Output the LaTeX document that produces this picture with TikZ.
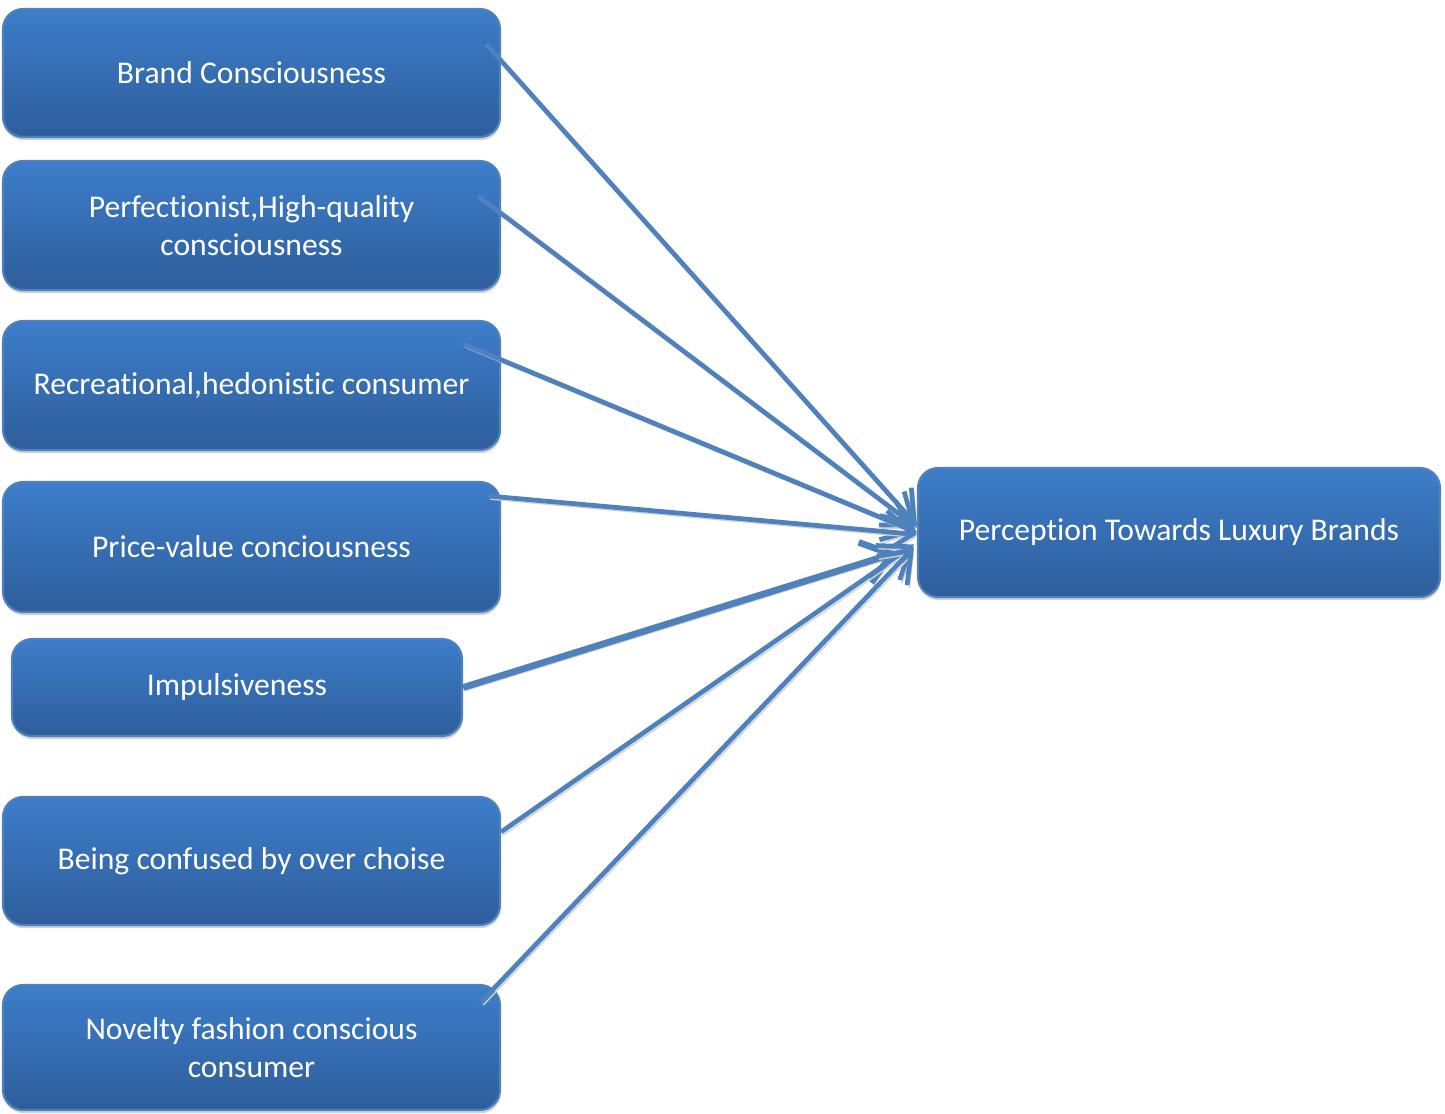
\documentclass[tikz,border=0pt]{standalone}
\usepackage{fontspec}
\setmainfont{Carlito}[Ligatures=NoCommon]
\usepackage{xcolor}
\definecolor{boxtop}{RGB}{61,125,202}
\definecolor{boxbot}{RGB}{46,94,155}
\definecolor{boxedge}{RGB}{79,129,189}
\definecolor{arrowblue}{RGB}{79,129,189}
\usetikzlibrary{arrows.meta,positioning,calc,shadows}

\begin{document}
\begin{tikzpicture}[
  box/.style={draw=boxedge, line width=0.6pt, top color=boxtop, bottom color=boxbot, rounded corners=2mm, minimum width=4.97cm, minimum height=1.28cm, align=center, text=white, font=\fontsize{9}{11}\selectfont, drop shadow={shadow xshift=0.2pt, shadow yshift=-0.9pt, fill=black, opacity=0.18}},
  arrow/.style={-{Straight Barb[length=2.8mm,width=4.2mm]}, line width=1.35pt, arrowblue, preaction={draw, black!18, transform canvas={xshift=0.6pt,yshift=-0.9pt}}}
]
  \useasboundingbox (0,0) rectangle (14.45,11.13);
  \node[box] (brand) at (2.515,10.40) {Brand Consciousness};
  \node[box, minimum height=1.29cm] (perfect) at (2.515,8.875) {Perfectionist,High-quality\\consciousness};
  \node[box, minimum height=1.29cm] (recreat) at (2.515,7.275) {Recreational,hedonistic consumer};
  \node[box, minimum height=1.30cm] (price) at (2.515,5.66) {Price-value conciousness};
  \node[box, minimum width=4.50cm, minimum height=0.97cm] (impulse) at (2.37,4.255) {Impulsiveness};
  \node[box] (confused) at (2.515,2.52) {Being confused by over choise};
  \node[box, minimum height=1.25cm] (novelty) at (2.515,0.655) {Novelty fashion conscious\\consumer};
  \node[box, minimum width=5.22cm, minimum height=1.29cm] (percept) at (11.79,5.805) {Perception Towards Luxury Brands};

  % arrows start just inside the top right of each box
  \draw[arrow] ($(brand.north east)+(-0.15,-0.36)$) -- ($(percept.west)+(0.0,0.07)$);
  \draw[arrow] ($(perfect.north east)+(-0.23,-0.36)$) -- ($(percept.west)+(0.0,0.05)$);
  \draw[arrow] ($(recreat.north east)+(-0.38,-0.24)$) -- ($(percept.west)+(0.0,0.0)$);
  \draw[arrow] ($(price.north east)+(-0.13,-0.15)$) -- ($(percept.west)+(0.0,-0.02)$);
  \draw[arrow, line width=1.9pt] (impulse.east) -- ($(percept.west)+(-0.2,-0.2)$);
  \draw[arrow] ($(confused.east)+(0,0.29)$) -- ($(percept.west)+(-0.03,-0.12)$);
  \draw[arrow] ($(novelty.north east)+(-0.20,-0.18)$) -- ($(percept.west)+(-0.03,-0.15)$);
\end{tikzpicture}
\end{document}
